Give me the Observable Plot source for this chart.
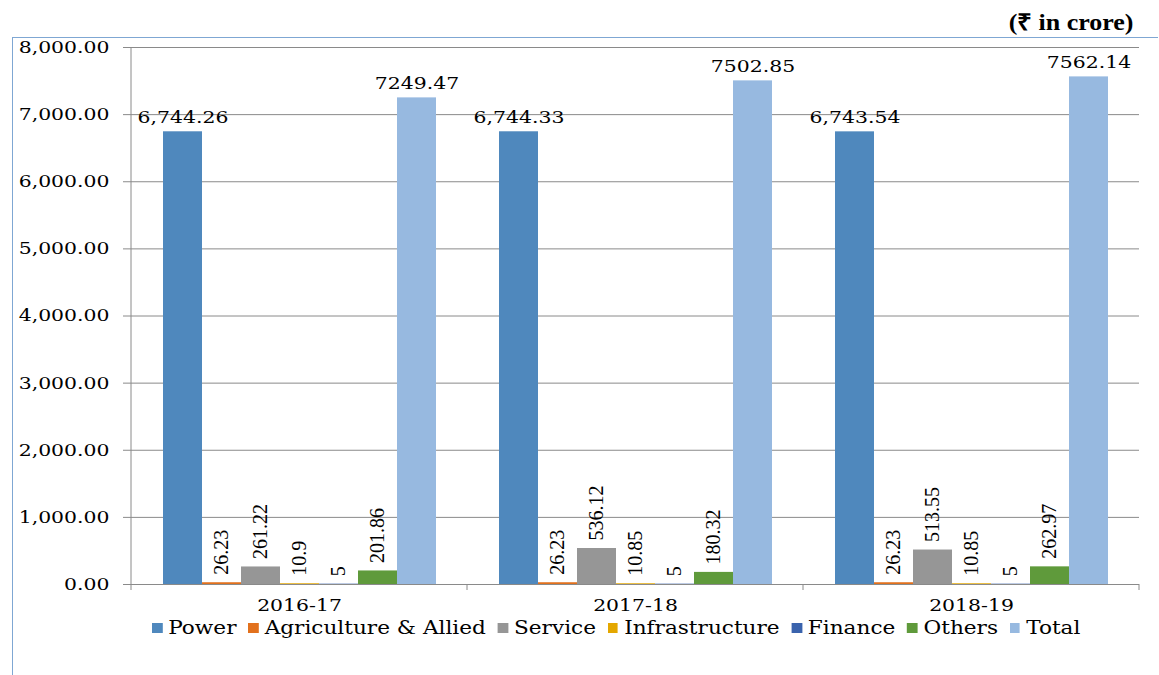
<!DOCTYPE html>
<html><head><meta charset="utf-8">
<script src="https://cdn.jsdelivr.net/npm/d3@7"></script>
<script src="https://cdn.jsdelivr.net/npm/@observablehq/plot@0.6"></script>
<style>
body{margin:0;background:#fff;}
#wrap{position:relative;width:1159px;height:675px;overflow:hidden;font-family:"DejaVu Serif",serif;}
#frame{position:absolute;left:12px;top:37px;width:1145px;height:700px;border-left:1.5px solid #7fa7d3;border-top:1.5px solid #7fa7d3;}
#unit{position:absolute;right:25px;top:5px;font:bold 23px "Liberation Serif",serif;color:#000;transform:scaleX(1.13);transform-origin:right center;}
#chart{position:absolute;left:0;top:0;}
#legend{position:absolute;top:617px;left:152px;display:flex;gap:10px;font-size:18px;color:#000;white-space:nowrap;transform:scaleX(1.2);transform-origin:left center;}
#legend span.sw{display:inline-block;width:8.5px;height:10px;margin-right:5px;vertical-align:1px;}
svg g.rot text{font-family:"Liberation Serif","Times New Roman",serif !important;}
</style></head>
<body><div id="wrap"><div id="frame"></div><div id="chart"></div><div id="unit">(₹ in crore)</div><div id="legend"></div></div>
<script>
const years = ["2016-17", "2017-18", "2018-19"];
const sectors = ["Power", "Agriculture & Allied", "Service", "Infrastructure", "Finance", "Others", "Total"];
const colors = ["#4f88bd", "#e2711d", "#969696", "#e4a700", "#3a63ad", "#5f9a3b", "#97b9e0"];
const power = [6744.26, 6744.33, 6743.54];
const agriculture = [26.23, 26.23, 26.23];
const service = [261.22, 536.12, 513.55];
const infrastructure = [10.9, 10.85, 10.85];
const finance = [5, 5, 5];
const others = [201.86, 180.32, 262.97];
const total = [7249.47, 7502.85, 7562.14];
const yTicks = [0, 1000, 2000, 3000, 4000, 5000, 6000, 7000, 8000];

const series = [power, agriculture, service, infrastructure, finance, others, total];
const data = [];
years.forEach((yr, i) => sectors.forEach((s, j) => {
  const v = series[j][i];
  let label;
  if (s === "Power") label = d3.format(",.2f")(v);
  else if (s === "Total") label = v.toFixed(2);
  else label = String(v);
  data.push({year: yr, sector: s, value: v, label});
}));
const big = data.filter(d => d.sector === "Power" || d.sector === "Total");
const small = data.filter(d => !(d.sector === "Power" || d.sector === "Total"));

const plot = Plot.plot({
  width: 1159, height: 675,
  marginLeft: 130, marginRight: 19, marginTop: 47, marginBottom: 91,
  style: {fontFamily: "DejaVu Serif", fontSize: "17px", color: "#000", background: "transparent"},
  fx: {domain: years, padding: 0, label: null, axis: null},
  x: {domain: sectors, paddingInner: 0, paddingOuter: 0.76, axis: null},
  y: {domain: [0, 8000], label: null},
  color: {domain: sectors, range: colors},
  marks: [
    Plot.gridY(yTicks, {stroke: "#8a8a8a", strokeOpacity: 1, strokeWidth: 1}),
    Plot.axisY(yTicks, {tickFormat: d => d3.format(",.2f")(d), tickSize: 8, tickPadding: 14, stroke: "#8a8a8a", fill: "#000", label: null, className: "hz"}),
    Plot.axisFx({anchor: "bottom", tickSize: 0, tickPadding: 14, label: null, fill: "#000", className: "hz"}),
    Plot.barY(data, {fx: "year", x: "sector", y: "value", fill: "sector"}),
    Plot.ruleY([0], {stroke: "#8a8a8a"}),
    Plot.text(big, {fx: "year", x: "sector", y: "value", text: "label", lineAnchor: "bottom", dy: -9, fill: "#000", className: "hz"}),
    Plot.text(small, {fx: "year", x: "sector", y: "value", text: "label", rotate: -90, textAnchor: "start", lineAnchor: "middle", dy: -8, fill: "#000", fontFamily: "Liberation Serif", fontSize: 20, className: "rot"})
  ]
});
document.getElementById("chart").appendChild(plot);

// widen horizontal text like the reference's stretched serif
d3.select(plot).selectAll("g.hz text").each(function() {
  const t = this.getAttribute("transform") || "";
  this.setAttribute("transform", t + " scale(1.2,1)");
});
d3.select(plot).selectAll("g.rot text").style("font-family", "'Liberation Serif', serif");

// y-axis line and facet boundary ticks from the library's scales
const ys = plot.scale("y"), fxs = plot.scale("fx");
const svg = d3.select(plot);
const y0 = ys.apply(0), y1 = ys.apply(8000);
const left = fxs.apply(years[0]);
svg.append("line").attr("x1", left).attr("x2", left).attr("y1", y0).attr("y2", y1).attr("stroke", "#8a8a8a");
years.forEach(yr => {
  const xr = fxs.apply(yr) + fxs.bandwidth;
  svg.append("line").attr("x1", xr).attr("x2", xr).attr("y1", y0).attr("y2", y0 + 6).attr("stroke", "#8a8a8a");
});
svg.append("line").attr("x1", left).attr("x2", left).attr("y1", y0).attr("y2", y0 + 6).attr("stroke", "#8a8a8a");

const lg = d3.select("#legend");
sectors.forEach((s, j) => {
  const it = lg.append("div");
  it.append("span").attr("class", "sw").style("background", colors[j]);
  it.append("span").text(s);
});
</script></body></html>
